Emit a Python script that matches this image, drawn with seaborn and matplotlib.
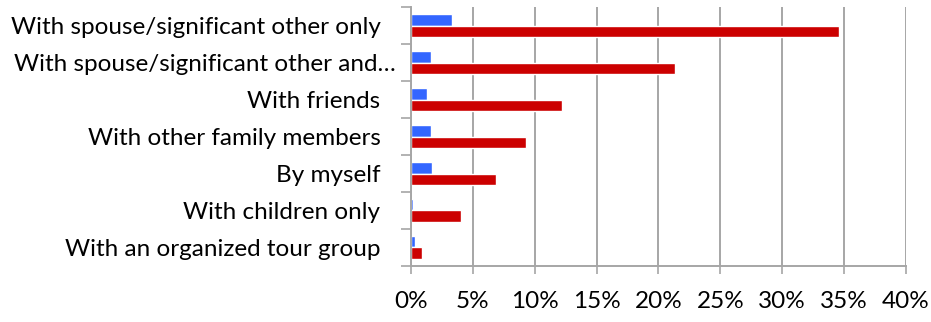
import pandas as pd
import matplotlib.pyplot as plt
import matplotlib.transforms as mtransforms
import seaborn as sns
from matplotlib.ticker import FuncFormatter, MultipleLocator

categories = [
    "With spouse/significant other only",
    "With spouse/significant other and…",
    "With friends",
    "With other family members",
    "By myself",
    "With children only",
    "With an organized tour group",
]
series_names = ["Series 1", "Series 2"]
blue_vals = [3.3, 1.6, 1.3, 1.6, 1.7, 0.15, 0.35]
red_vals = [34.6, 21.3, 12.2, 9.3, 6.9, 4.0, 0.9]

sns.set_theme(style="white")
plt.rcParams['font.family'] = ['Lato', 'DejaVu Sans']

df = pd.DataFrame({
    'category': categories * 2,
    'value': blue_vals + red_vals,
    'series': [series_names[0]] * len(categories) + [series_names[1]] * len(categories),
})

fig = plt.figure(figsize=(9.31, 3.22), dpi=100)
ax = fig.add_axes([0.4415, 0.174, 0.5315, 0.804])

sns.barplot(data=df, y='category', x='value', hue='series', orient='h',
            palette=['#3366ff', '#cc0000'], width=0.62, legend=False, ax=ax,
            saturation=1)

ax.set_xlim(0, 40)
ax.set_ylim(len(categories) - 0.5, -0.5)
ax.xaxis.set_major_locator(MultipleLocator(5))
ax.xaxis.set_major_formatter(FuncFormatter(lambda v, p: f"{v:.0f}%"))
ax.grid(axis='x', color='#a6a6a6', linewidth=1.4)
ax.set_axisbelow(True)
ax.set_xlabel("")
ax.set_ylabel("")

for s in ['top', 'right']:
    ax.spines[s].set_visible(False)
for s in ['left', 'bottom']:
    ax.spines[s].set_color('#a6a6a6')
    ax.spines[s].set_linewidth(1.4)

ax.tick_params(axis='x', length=6, width=1.2, color='#a6a6a6', pad=12,
               labelsize=17.5, labelcolor='black', bottom=True)
ax.tick_params(axis='y', which='major', length=0, pad=22, labelsize=17.5,
               labelcolor='black')
ax.set_yticks([i + 0.5 for i in range(-1, len(categories))], minor=True)
ax.tick_params(axis='y', which='minor', length=7, width=1.2, color='#a6a6a6', left=True)

# the truncated label sits a bit further right, like the original
shift = mtransforms.ScaledTranslation(0.15, 0, fig.dpi_scale_trans)
lbl = ax.get_yticklabels()[1]
lbl.set_transform(lbl.get_transform() + shift)

plt.savefig("out.png", dpi=100)
